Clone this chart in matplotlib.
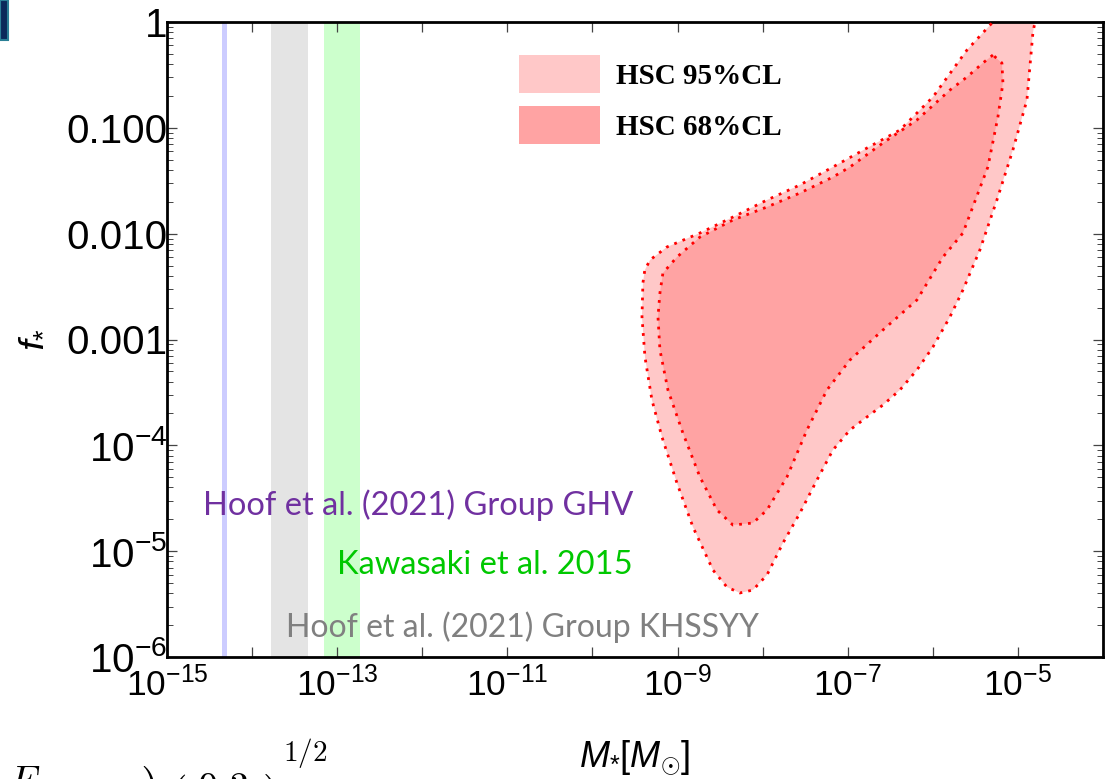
import numpy as np
import matplotlib.pyplot as plt
from matplotlib.patches import Patch, Rectangle
from matplotlib.ticker import FixedLocator, FixedFormatter, NullFormatter, LogLocator

plt.rcParams['font.family'] = 'Liberation Sans'
plt.rcParams['mathtext.fontset'] = 'custom'
plt.rcParams['mathtext.rm'] = 'Liberation Sans'
plt.rcParams['mathtext.it'] = 'Liberation Sans:italic'
plt.rcParams['mathtext.bf'] = 'Liberation Sans:bold'

# HSC microlensing contours, log10(M*/Msun) vs log10(f*)
outer_logm = [-5.24, -5.294, -5.599, -5.999, -6.387, -6.774, -7.174, -7.562, -7.949, -8.349,
              -8.737, -9.125, -9.324, -9.385, -9.407, -9.418, -9.383, -9.301, -9.183, -9.007,
              -8.819, -8.584, -8.420, -8.267, -8.114, -7.949, -7.761, -7.562, -7.362, -7.174,
              -6.974, -6.774, -6.586, -6.387, -6.187, -5.999, -5.799, -5.646, -5.447, -5.247,
              -5.059, -4.894, -4.824, -4.788]
outer_logf = [0.05, 0.0, -0.265, -0.709, -1.021, -1.191, -1.370, -1.540, -1.682, -1.843,
              -1.994, -2.126, -2.249, -2.345, -2.466, -2.787, -3.165, -3.572, -3.921, -4.356,
              -4.772, -5.178, -5.339, -5.395, -5.367, -5.225, -4.923, -4.640, -4.328, -4.044,
              -3.855, -3.732, -3.619, -3.477, -3.288, -3.071, -2.787, -2.532, -2.154, -1.682,
              -1.209, -0.737, -0.104, 0.05]

inner_logm = [-5.294, -5.411, -5.599, -5.799, -6.187, -6.586, -6.974, -7.174, -7.562, -7.949,
              -8.349, -8.737, -9.007, -9.172, -9.207, -9.230, -9.207, -9.113, -8.937, -8.737,
              -8.537, -8.349, -8.114, -7.949, -7.714, -7.479, -7.244, -6.974, -6.586, -6.187,
              -5.881, -5.646, -5.353, -5.235, -5.176, -5.188]
inner_logf = [-0.312, -0.387, -0.520, -0.643, -0.926, -1.143, -1.370, -1.465, -1.616, -1.748,
              -1.871, -2.032, -2.221, -2.372, -2.561, -2.787, -3.099, -3.477, -3.884, -4.299,
              -4.611, -4.753, -4.734, -4.611, -4.299, -3.855, -3.477, -3.194, -2.910, -2.627,
              -2.221, -1.994, -1.370, -0.898, -0.576, -0.387]

# minicluster mass ranges from the axion simulations
band_lo = [4.4e-15, 1.65e-14, 7.0e-14]
band_hi = [5.1e-15, 4.5e-14, 1.85e-13]
band_colors = ['#ccccff', '#e4e4e4', '#ccffcc']

notes = ['Hoof et al. (2021) Group GHV', 'Kawasaki et al. 2015', 'Hoof et al. (2021) Group KHSSYY']
note_colors = ['#7030a0', '#00c800', '#808080']

legend_labels = ['HSC 95%CL', 'HSC 68%CL']
fill95 = '#ffc8c8'
fill68 = '#ffa3a3'

xticks = [1e-15, 1e-13, 1e-11, 1e-9, 1e-7, 1e-5]
xticklabels = ['$10^{-15}$', '$10^{-13}$', '$10^{-11}$', '$10^{-9}$', '$10^{-7}$', '$10^{-5}$']
yticks = [1e-6, 1e-5, 1e-4, 1e-3, 1e-2, 1e-1, 1]
yticklabels = ['$10^{-6}$', '$10^{-5}$', '$10^{-4}$', '0.001', '0.010', '0.100', '1']

W, H = 1114, 779
fig = plt.figure(figsize=(W / 100, H / 100), dpi=100)
ax = fig.add_axes([167 / W, (H - 657) / H, 936 / W, 635 / H])
ax.set_xscale('log')
ax.set_yscale('log')
ax.set_xlim(1e-15, 1e-4)
ax.set_ylim(1e-6, 1)

for lo, hi, c in zip(band_lo, band_hi, band_colors):
    ax.axvspan(lo, hi, color=c, lw=0, zorder=1)

om = 10 ** np.array(outer_logm)
of = 10 ** np.array(outer_logf)
im = 10 ** np.array(inner_logm)
inf = 10 ** np.array(inner_logf)
dots = (0, (1, 2.2))
ax.fill(om, of, color=fill95, lw=0, zorder=2)
ax.plot(om, of, color='red', lw=2.0, ls=dots, zorder=3)
ax.fill(im, inf, color=fill68, lw=0, zorder=4)
ax.plot(np.append(im, im[0]), np.append(inf, inf[0]), color='red', lw=2.0, ls=dots, zorder=5)

# labels of the vertical bands
ax.text(0.4979, 0.2394, notes[0], color=note_colors[0], transform=ax.transAxes,
        ha='right', va='center', family='Lato', fontsize=23.5, zorder=6)
ax.text(0.4979, 0.1449, notes[1], color=note_colors[1], transform=ax.transAxes,
        ha='right', va='center', family='Lato', fontsize=23.5, zorder=6)
ax.text(0.1271, 0.0472, notes[2], color=note_colors[2], transform=ax.transAxes,
        ha='left', va='center', family='Lato', fontsize=23, zorder=6)

ax.xaxis.set_major_locator(FixedLocator(xticks))
ax.xaxis.set_major_formatter(FixedFormatter(xticklabels))
ax.xaxis.set_minor_locator(FixedLocator([1e-14, 1e-12, 1e-10, 1e-8, 1e-6, 1e-4]))
ax.xaxis.set_minor_formatter(NullFormatter())
ax.yaxis.set_major_locator(FixedLocator(yticks))
ax.yaxis.set_major_formatter(FixedFormatter(yticklabels))
ax.yaxis.set_minor_locator(LogLocator(base=10, subs=np.arange(2, 10)))
ax.yaxis.set_minor_formatter(NullFormatter())

ax.tick_params(which='both', direction='in', top=True, right=True, color='#444444')
ax.tick_params(which='major', length=7, width=0.9)
ax.tick_params(which='minor', length=4, width=0.7)
ax.tick_params(axis='x', which='major', labelsize=25.5, pad=7)
ax.tick_params(axis='x', which='minor', length=7, width=0.9)
ax.tick_params(axis='y', which='major', labelsize=29, pad=0)
for s in ax.spines.values():
    s.set_linewidth(2.0)

ax.set_xlabel(r'$M_{*}[M_{\odot}]$', fontsize=26)
ax.xaxis.set_label_coords(0.5, -0.128)
ax.set_ylabel(r'$f_{*}$', fontsize=28)
ax.yaxis.set_label_coords(-0.126, 0.5)

handles = [Patch(fc=fill95, ec='none'), Patch(fc=fill68, ec='none')]
ax.legend(handles, legend_labels, loc='upper left', bbox_to_anchor=(519 / W, 1 - 55 / H),
          bbox_transform=fig.transFigure, frameon=False,
          prop=dict(family='Liberation Serif', weight='bold', size=21),
          handlelength=2.78, handleheight=1.63, labelspacing=0.45, handletextpad=0.55,
          borderpad=0, borderaxespad=0)

# slide leftovers around the plot: corner block and the top of a formula
fig.patches.append(Rectangle((0, 1 - 40 / H), 8 / W, 40 / H, transform=fig.transFigure,
                             fc='#0b2a5a', ec='#2a7f95', lw=1.5))
fig.text(-95 / W, 1 - 770 / H,
         r'$\left(\dfrac{F_a}{\qquad\qquad\qquad}\right)\;\left(\dfrac{0.3}{\qquad}\right)$',
         math_fontfamily='cm', fontsize=29, ha='left', va='top')
fig.text(283 / W, 1 - 736 / H, r'$1/2$', math_fontfamily='cm', fontsize=21,
         ha='left', va='top')

fig.savefig('out.png', dpi=100)
